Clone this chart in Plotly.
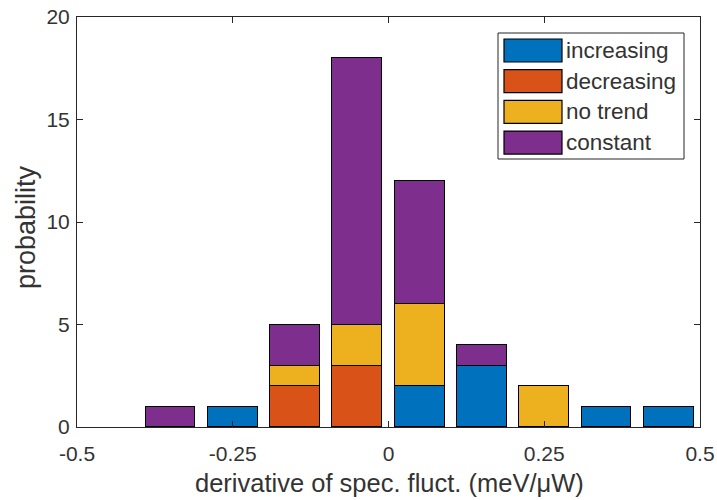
import plotly.graph_objects as go

# Bin centres of the histogram of derivative values (meV/µW)
bin_centers = [-0.35, -0.25, -0.15, -0.05, 0.05, 0.15, 0.25, 0.35, 0.45]

# Counts per bin for each trend class (stacked bottom to top)
increasing = [0, 1, 0, 0, 2, 3, 0, 1, 1]
decreasing = [0, 0, 2, 3, 0, 0, 0, 0, 0]
no_trend   = [0, 0, 1, 2, 4, 0, 2, 0, 0]
constant   = [1, 0, 2, 13, 6, 1, 0, 0, 0]

series_names = ["increasing", "decreasing", "no trend", "constant"]
series_values = [increasing, decreasing, no_trend, constant]
series_colors = ["#0072BD", "#D95319", "#EDB120", "#7E2F8E"]

x_ticks = [-0.5, -0.25, 0, 0.25, 0.5]
x_tick_labels = ["-0.5", "-0.25", "0", "0.25", "0.5"]
y_ticks = [0, 5, 10, 15, 20]

x_title = "derivative of spec. fluct. (meV/\u03bcW)"
y_title = "probability"

FONT = "Liberation Sans, Arial, Helvetica, sans-serif"
AX = "#262626"
TXT = "#333333"

fig = go.Figure()
for name, vals, col in zip(series_names, series_values, series_colors):
    fig.add_trace(go.Bar(
        x=bin_centers, y=vals, name=name, width=0.08,
        marker=dict(color=col, line=dict(color="#000000", width=1.2)),
        showlegend=False,
    ))

# Plot-area geometry in pixels (used to place legend and axis titles)
W, H = 717, 500
L, R, T, B = 77, 17, 17, 73
pw, ph = W - L - R, H - T - B

def px(x):
    return (x - L) / pw

def py(y):
    return (H - B - y) / ph

shapes = [dict(type="rect", xref="paper", yref="paper",
               x0=px(498), x1=px(684), y0=py(159), y1=py(33),
               line=dict(color=AX, width=1), fillcolor="white", layer="above")]
annotations = []
row_top = 39
row_step = 30.7
for i, (name, col) in enumerate(zip(series_names, series_colors)):
    top = row_top + i * row_step
    shapes.append(dict(type="rect", xref="paper", yref="paper",
                       x0=px(504), x1=px(562), y0=py(top + 23), y1=py(top),
                       line=dict(color="#000000", width=1.2), fillcolor=col,
                       layer="above"))
    annotations.append(dict(xref="paper", yref="paper", x=px(565),
                            y=py(top + 11.5), text=name, showarrow=False,
                            xanchor="left", yanchor="middle", borderpad=0,
                            font=dict(family=FONT, size=22.5, color=TXT)))

# Axis titles
annotations.append(dict(xref="paper", yref="paper", x=px(389), y=py(483),
                        text=x_title, showarrow=False, xanchor="center",
                        yanchor="middle",
                        font=dict(family=FONT, size=25.5, color=TXT)))
annotations.append(dict(xref="paper", yref="paper", x=px(26), y=py(227),
                        text=y_title, showarrow=False, textangle=-90,
                        xanchor="center", yanchor="middle",
                        font=dict(family=FONT, size=27, color=TXT)))

fig.update_layout(
    width=W, height=H,
    margin=dict(l=L, r=R, t=T, b=B, autoexpand=False),
    barmode="stack",
    bargap=0,
    plot_bgcolor="white",
    paper_bgcolor="white",
    font=dict(family=FONT, color=TXT, size=20),
    shapes=shapes,
    annotations=annotations,
    xaxis=dict(
        range=[-0.5, 0.5], tickmode="array", tickvals=x_ticks,
        ticktext=x_tick_labels, ticks="inside", ticklen=6,
        tickcolor=AX, showline=True, linecolor=AX, linewidth=1,
        mirror="ticks", showgrid=False, zeroline=False, automargin=False,
        ticklabelstandoff=8,
        tickfont=dict(size=21, color=TXT),
    ),
    yaxis=dict(
        range=[0, 20], tickmode="array", tickvals=y_ticks,
        ticks="inside", ticklen=6, tickcolor=AX,
        showline=True, linecolor=AX, linewidth=1, mirror="ticks",
        showgrid=False, zeroline=False, automargin=False,
        ticklabelstandoff=2,
        tickfont=dict(size=21, color=TXT),
    ),
)

fig.write_html("out.html")
